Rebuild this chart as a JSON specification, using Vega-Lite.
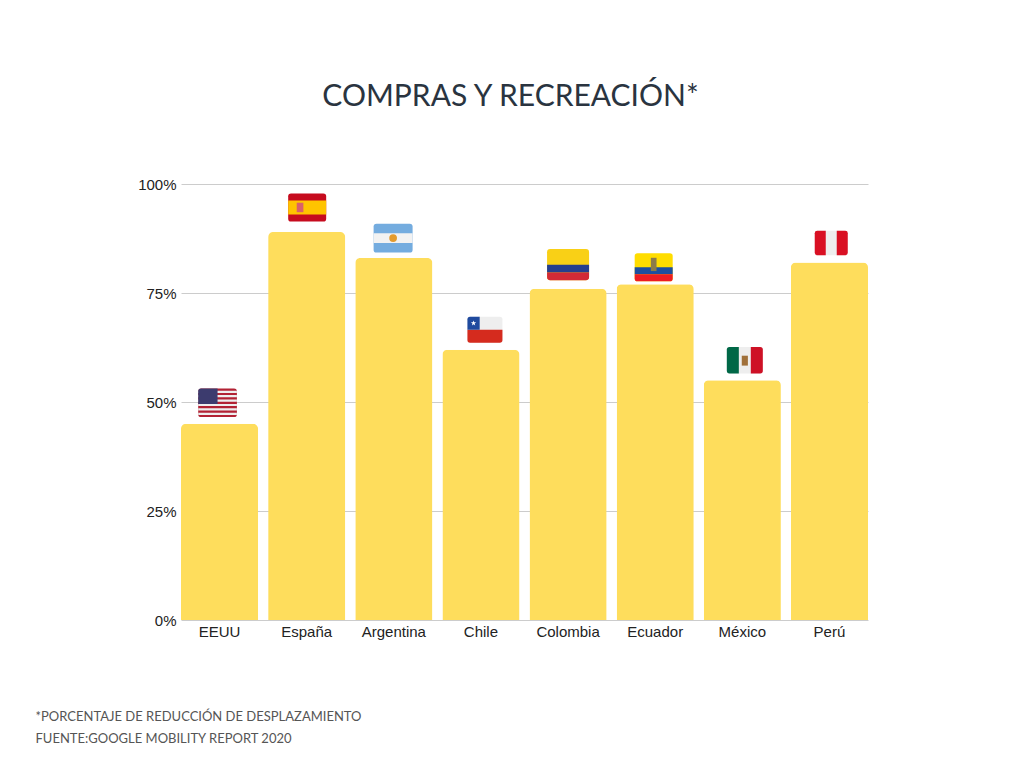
{
  "$schema": "https://vega.github.io/schema/vega-lite/v6.json",
  "width": 687,
  "height": 436,
  "autosize": {"type": "none"},
  "padding": {"left": 181, "top": 184, "right": 156, "bottom": 148},
  "background": "#FFFFFF",
  "title": {
    "text": "COMPRAS Y RECREACIÓN*",
    "font": "Lato",
    "fontSize": 30,
    "fontWeight": "normal",
    "color": "#2A3440",
    "anchor": "middle",
    "frame": "group",
    "dx": -14,
    "baseline": "alphabetic",
    "offset": 41
  },
  "data": {
    "values": [
      {"pais": "EEUU", "valor": 45},
      {"pais": "España", "valor": 89},
      {"pais": "Argentina", "valor": 83},
      {"pais": "Chile", "valor": 62},
      {"pais": "Colombia", "valor": 76},
      {"pais": "Ecuador", "valor": 77},
      {"pais": "México", "valor": 55},
      {"pais": "Perú", "valor": 82}
    ]
  },
  "encoding": {
    "x": {
      "field": "pais",
      "type": "nominal",
      "sort": null,
      "scale": {"paddingInner": 0.115, "paddingOuter": 0},
      "axis": {
        "labelAngle": 0,
        "domain": false,
        "ticks": false,
        "grid": false,
        "labelPadding": 4,
        "labelFont": "Liberation Sans",
        "labelFontSize": 15,
        "labelColor": "#222222",
        "title": ["*PORCENTAJE DE REDUCCIÓN DE DESPLAZAMIENTO", "FUENTE:GOOGLE MOBILITY REPORT 2020"],
        "titleFont": "Lato",
        "titleFontSize": 13,
        "titleFontWeight": "normal",
        "titleColor": "#555555",
        "titleAlign": "left",
        "titleBaseline": "alphabetic",
        "titleLineHeight": 22,
        "titleX": -146,
        "titleY": 100
      }
    },
    "y": {
      "field": "valor",
      "type": "quantitative",
      "scale": {"domain": [0, 100], "nice": false},
      "axis": {
        "values": [0, 25, 50, 75, 100],
        "labelExpr": "datum.value + '%'",
        "title": null,
        "domain": false,
        "ticks": false,
        "grid": true,
        "gridColor": "#CCCCCC",
        "gridWidth": 1,
        "labelPadding": 5,
        "labelFont": "Liberation Sans",
        "labelFontSize": 15,
        "labelColor": "#222222"
      }
    }
  },
  "layer": [
    {
      "mark": {"type": "bar", "color": "#FEDD5C", "cornerRadiusTopLeft": 5, "cornerRadiusTopRight": 5}
    },
    {
      "transform": [{"filter": "datum.pais === 'EEUU'"}],
      "layer": [
        {"mark": {"type": "point", "filled": true, "opacity": 1, "strokeWidth": 0, "size": 1498, "xOffset": -2, "yOffset": -21, "color": "#B22234", "shape": "M-0.85,-0.74H0.85Q1,-0.74,1,-0.59V0.59Q1,0.74,0.85,0.74H-0.85Q-1,0.74,-1,0.59V-0.59Q-1,-0.74,-0.85,-0.74Z"}},
        {"mark": {"type": "point", "filled": true, "opacity": 1, "strokeWidth": 0, "size": 1498, "xOffset": -2, "yOffset": -21, "color": "#EEEEEE", "shape": "M-1,-0.626H1V-0.512H-1Z M-1,-0.398H1V-0.285H-1Z M-1,-0.171H1V-0.057H-1Z M-1,0.057H1V0.171H-1Z M-1,0.285H1V0.398H-1Z M-1,0.512H1V0.626H-1Z"}},
        {"mark": {"type": "point", "filled": true, "opacity": 1, "strokeWidth": 0, "size": 1498, "xOffset": -2, "yOffset": -21, "color": "#3C3B6E", "shape": "M-0.85,-0.74H0V0.057H-1V-0.59Q-1,-0.74,-0.85,-0.74Z"}}
      ]
    },
    {
      "transform": [{"filter": "datum.pais === 'España'"}],
      "layer": [
        {"mark": {"type": "point", "filled": true, "opacity": 1, "strokeWidth": 0, "size": 1444, "xOffset": 0.5, "yOffset": -24.5, "color": "#C60B1E", "shape": "M-0.85,-0.74H0.85Q1,-0.74,1,-0.59V0.59Q1,0.74,0.85,0.74H-0.85Q-1,0.74,-1,0.59V-0.59Q-1,-0.74,-0.85,-0.74Z"}},
        {"mark": {"type": "point", "filled": true, "opacity": 1, "strokeWidth": 0, "size": 1444, "xOffset": 0.5, "yOffset": -24.5, "color": "#FFC400", "shape": "M-1,-0.37H1V0.37H-1Z"}},
        {"mark": {"type": "point", "filled": true, "opacity": 1, "strokeWidth": 0, "size": 1444, "xOffset": 0.5, "yOffset": -24.5, "color": "#D9606A", "shape": "M-0.55,-0.25H-0.2V0.25H-0.55Z"}}
      ]
    },
    {
      "transform": [{"filter": "datum.pais === 'Argentina'"}],
      "layer": [
        {"mark": {"type": "point", "filled": true, "opacity": 1, "strokeWidth": 0, "size": 1521, "xOffset": -0.7, "yOffset": -20, "color": "#74ACDF", "shape": "M-0.85,-0.74H0.85Q1,-0.74,1,-0.59V0.59Q1,0.74,0.85,0.74H-0.85Q-1,0.74,-1,0.59V-0.59Q-1,-0.74,-0.85,-0.74Z"}},
        {"mark": {"type": "point", "filled": true, "opacity": 1, "strokeWidth": 0, "size": 1521, "xOffset": -0.7, "yOffset": -20, "color": "#F2F2F2", "shape": "M-1,-0.247H1V0.247H-1Z"}},
        {"mark": {"type": "point", "filled": true, "opacity": 1, "strokeWidth": 0, "size": 60, "xOffset": -0.7, "yOffset": -20, "color": "#E39B2E", "shape": "circle"}}
      ]
    },
    {
      "transform": [{"filter": "datum.pais === 'Chile'"}],
      "layer": [
        {"mark": {"type": "point", "filled": true, "opacity": 1, "strokeWidth": 0, "size": 1225, "xOffset": 4, "yOffset": -20, "color": "#EEEEEE", "shape": "M-0.85,-0.74H0.85Q1,-0.74,1,-0.59V0.59Q1,0.74,0.85,0.74H-0.85Q-1,0.74,-1,0.59V-0.59Q-1,-0.74,-0.85,-0.74Z"}},
        {"mark": {"type": "point", "filled": true, "opacity": 1, "strokeWidth": 0, "size": 1225, "xOffset": 4, "yOffset": -20, "color": "#D52B1E", "shape": "M-1,0H1V0.59Q1,0.74,0.85,0.74H-0.85Q-1,0.74,-1,0.59Z"}},
        {"mark": {"type": "point", "filled": true, "opacity": 1, "strokeWidth": 0, "size": 1225, "xOffset": 4, "yOffset": -20, "color": "#1F4A9E", "shape": "M-0.85,-0.74H-0.3V0H-1V-0.59Q-1,-0.74,-0.85,-0.74Z"}},
        {"mark": {"type": "point", "filled": true, "opacity": 1, "strokeWidth": 0, "size": 1225, "xOffset": 4, "yOffset": -20, "color": "#FFFFFF", "shape": "M-0.65,-0.53L-0.612,-0.423L-0.498,-0.419L-0.588,-0.35L-0.556,-0.241L-0.65,-0.305L-0.744,-0.241L-0.712,-0.35L-0.802,-0.419L-0.688,-0.423Z"}}
      ]
    },
    {
      "transform": [{"filter": "datum.pais === 'Colombia'"}],
      "layer": [
        {"mark": {"type": "point", "filled": true, "opacity": 1, "strokeWidth": 0, "size": 1764, "xOffset": 0, "yOffset": -24, "color": "#F9D016", "shape": "M-0.85,-0.74H0.85Q1,-0.74,1,-0.59V0.59Q1,0.74,0.85,0.74H-0.85Q-1,0.74,-1,0.59V-0.59Q-1,-0.74,-0.85,-0.74Z"}},
        {"mark": {"type": "point", "filled": true, "opacity": 1, "strokeWidth": 0, "size": 1764, "xOffset": 0, "yOffset": -24, "color": "#253F8E", "shape": "M-1,0H1V0.37H-1Z"}},
        {"mark": {"type": "point", "filled": true, "opacity": 1, "strokeWidth": 0, "size": 1764, "xOffset": 0, "yOffset": -24, "color": "#D32A36", "shape": "M-1,0.37H1V0.59Q1,0.74,0.85,0.74H-0.85Q-1,0.74,-1,0.59Z"}}
      ]
    },
    {
      "transform": [{"filter": "datum.pais === 'Ecuador'"}],
      "layer": [
        {"mark": {"type": "point", "filled": true, "opacity": 1, "strokeWidth": 0, "size": 1444, "xOffset": -1.5, "yOffset": -17, "color": "#FFDD00", "shape": "M-0.85,-0.74H0.85Q1,-0.74,1,-0.59V0.59Q1,0.74,0.85,0.74H-0.85Q-1,0.74,-1,0.59V-0.59Q-1,-0.74,-0.85,-0.74Z"}},
        {"mark": {"type": "point", "filled": true, "opacity": 1, "strokeWidth": 0, "size": 1444, "xOffset": -1.5, "yOffset": -17, "color": "#1D4FA0", "shape": "M-1,0H1V0.37H-1Z"}},
        {"mark": {"type": "point", "filled": true, "opacity": 1, "strokeWidth": 0, "size": 1444, "xOffset": -1.5, "yOffset": -17, "color": "#ED1C24", "shape": "M-1,0.37H1V0.59Q1,0.74,0.85,0.74H-0.85Q-1,0.74,-1,0.59Z"}},
        {"mark": {"type": "point", "filled": true, "opacity": 1, "strokeWidth": 0, "size": 1444, "xOffset": -1.5, "yOffset": -17, "color": "#8C7B4A", "shape": "M-0.15,-0.5H0.15V0.2H-0.15Z"}}
      ]
    },
    {
      "transform": [{"filter": "datum.pais === 'México'"}],
      "layer": [
        {"mark": {"type": "point", "filled": true, "opacity": 1, "strokeWidth": 0, "size": 1296, "xOffset": 2.5, "yOffset": -20, "color": "#EEEEEE", "shape": "M-0.85,-0.74H0.85Q1,-0.74,1,-0.59V0.59Q1,0.74,0.85,0.74H-0.85Q-1,0.74,-1,0.59V-0.59Q-1,-0.74,-0.85,-0.74Z"}},
        {"mark": {"type": "point", "filled": true, "opacity": 1, "strokeWidth": 0, "size": 1296, "xOffset": 2.5, "yOffset": -20, "color": "#006847", "shape": "M-0.85,-0.74H-0.333V0.74H-0.85Q-1,0.74,-1,0.59V-0.59Q-1,-0.74,-0.85,-0.74Z"}},
        {"mark": {"type": "point", "filled": true, "opacity": 1, "strokeWidth": 0, "size": 1296, "xOffset": 2.5, "yOffset": -20, "color": "#CE1126", "shape": "M0.333,-0.74H0.85Q1,-0.74,1,-0.59V0.59Q1,0.74,0.85,0.74H0.333Z"}},
        {"mark": {"type": "point", "filled": true, "opacity": 1, "strokeWidth": 0, "size": 1296, "xOffset": 2.5, "yOffset": -20, "color": "#A0703A", "shape": "M-0.17,-0.25H0.17V0.3H-0.17Z"}}
      ]
    },
    {
      "transform": [{"filter": "datum.pais === 'Perú'"}],
      "layer": [
        {"mark": {"type": "point", "filled": true, "opacity": 1, "strokeWidth": 0, "size": 1089, "xOffset": 1.8, "yOffset": -19.5, "color": "#EEEEEE", "shape": "M-0.85,-0.74H0.85Q1,-0.74,1,-0.59V0.59Q1,0.74,0.85,0.74H-0.85Q-1,0.74,-1,0.59V-0.59Q-1,-0.74,-0.85,-0.74Z"}},
        {"mark": {"type": "point", "filled": true, "opacity": 1, "strokeWidth": 0, "size": 1089, "xOffset": 1.8, "yOffset": -19.5, "color": "#D91023", "shape": "M-0.85,-0.74H-0.333V0.74H-0.85Q-1,0.74,-1,0.59V-0.59Q-1,-0.74,-0.85,-0.74Z"}},
        {"mark": {"type": "point", "filled": true, "opacity": 1, "strokeWidth": 0, "size": 1089, "xOffset": 1.8, "yOffset": -19.5, "color": "#D91023", "shape": "M0.333,-0.74H0.85Q1,-0.74,1,-0.59V0.59Q1,0.74,0.85,0.74H0.333Z"}}
      ]
    }
  ],
  "config": {
    "view": {"stroke": null},
    "font": "Liberation Sans"
  }
}
